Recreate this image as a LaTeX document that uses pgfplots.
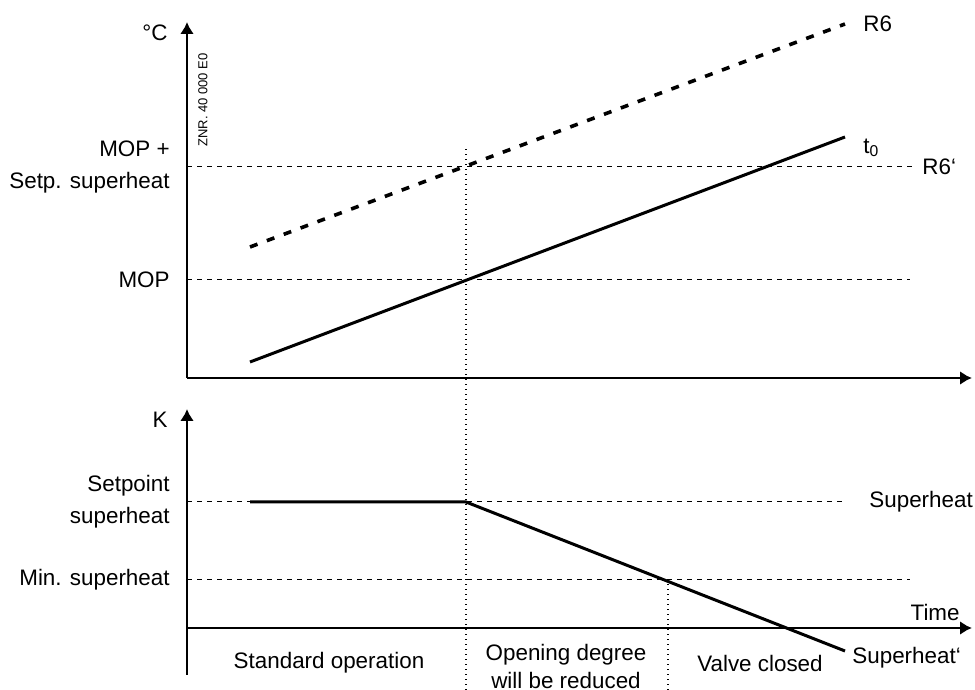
\documentclass[border=0pt]{standalone}
\usepackage{fontspec}
\setmainfont{Liberation Sans}
\usepackage{pgfplots}
\pgfplotsset{compat=1.18}
\usetikzlibrary{arrows.meta}
\pgfplotsset{
  myax/.style={scale only axis, width=392.5pt, xmin=0, xmax=785,
    ticks=none, clip=false},
  myarrows/.style={axis line style={line width=1.2pt, -{Latex[length=6pt,width=7pt]}}},
  thick line/.style={black, line width=1.5pt},
  thin dash/.style={black, line width=0.5pt, dash pattern=on 2.5pt off 2.5pt},
  dotline/.style={black, line width=0.6pt, dash pattern=on 0.7pt off 1.8pt},
}
\begin{document}
\fontsize{11.2}{14}\selectfont
\begin{tikzpicture}[x=0.5pt,y=0.5pt, every node/.append style={inner sep=0pt}]
\useasboundingbox (0,0) rectangle (975,690);
% top axis
\begin{axis}[myax, axis lines=left, myarrows, at={(187,312)}, anchor=south west,
  ymin=0, ymax=356, height=178pt]
\addplot[thin dash] coordinates {(0,211) (725,211)};
\addplot[thin dash] coordinates {(0,98) (723,98)};
\addplot[thick line] coordinates {(63,16) (658,241)};
\addplot[black, line width=1.8pt, dash pattern=on 4pt off 5pt] coordinates {(63,131) (658,354)};
\node[anchor=east] at (axis cs:-19,345) {°C};
\node[anchor=east, align=right, font=\fontsize{11.2}{16}\selectfont] at (axis cs:-17,211) {MOP +\\Setp. superheat};
\node[anchor=east] at (axis cs:-17,98) {MOP};
\node[rotate=90, font=\fontsize{6.5}{8}\selectfont] at (axis cs:16,278) {ZNR. 40 000 E0};
\node[anchor=west] at (axis cs:676,354) {R6};
\node[anchor=west] at (axis cs:676,230) {t\textsubscript{0}};
\node[anchor=west] at (axis cs:735,211) {R6‘};
\end{axis}
% bottom axis
\begin{axis}[myax, axis lines=middle, myarrows, at={(187,15)}, anchor=south west,
  ymin=-47, ymax=219, height=133pt]
\addplot[thin dash] coordinates {(0,126) (658,126)};
\addplot[thin dash] coordinates {(0,48) (723,48)};
\addplot[dotline] coordinates {(279,-62) (279,480)};
\addplot[dotline] coordinates {(481,-62) (481,48)};
\addplot[thick line] coordinates {(63,126) (279,126) (658,-23)};
\node[anchor=east] at (axis cs:-19,208) {K};
\node[anchor=east, align=right, font=\fontsize{11.2}{16}\selectfont] at (axis cs:-17,126) {Setpoint\\superheat};
\node[anchor=east] at (axis cs:-17,48) {Min. superheat};
\node[anchor=west] at (axis cs:682,126) {Superheat};
\node[anchor=east] at (axis cs:773,16) {Time};
\node[anchor=west] at (axis cs:665,-30) {Superheat‘};
\node at (axis cs:142,-35) {Standard operation};
\node[align=center, font=\fontsize{11.2}{14}\selectfont] at (axis cs:379,-38) {Opening degree\\will be reduced};
\node at (axis cs:573,-35) {Valve closed};
\end{axis}
\end{tikzpicture}
\end{document}
